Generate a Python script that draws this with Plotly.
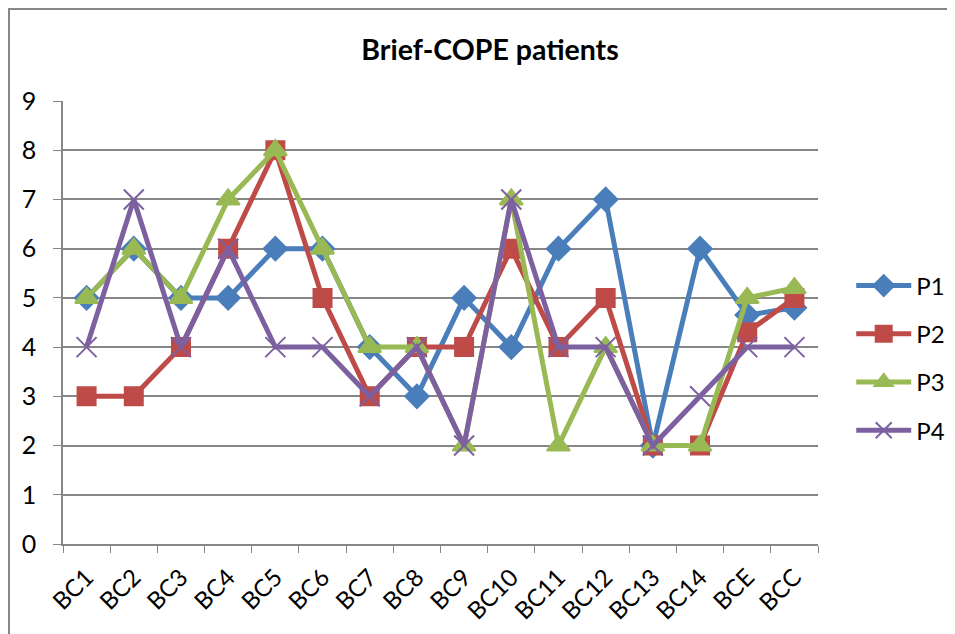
import plotly.graph_objects as go

categories = ["BC1", "BC2", "BC3", "BC4", "BC5", "BC6", "BC7", "BC8", "BC9", "BC10",
              "BC11", "BC12", "BC13", "BC14", "BCE", "BCC"]
p1 = [5, 6, 5, 5, 6, 6, 4, 3, 5, 4, 6, 7, 2, 6, 4.65, 4.8]
p2 = [3, 3, 4, 6, 8, 5, 3, 4, 4, 6, 4, 5, 2, 2, 4.3, 5]
p3 = [5, 6, 5, 7, 8, 6, 4, 4, 2, 7, 2, 4, 2, 2, 5, 5.2]
p4 = [4, 7, 4, 6, 4, 4, 3, 4, 2, 7, 4, 4, 2, 3, 4, 4]
y_ticks = [0, 1, 2, 3, 4, 5, 6, 7, 8, 9]

series = [
    ("P1", p1, "#4A7EBB", "diamond", 18),
    ("P2", p2, "#BE4B48", "square", 18),
    ("P3", p3, "#98B954", "triangle-up", 20),
    ("P4", p4, "#7D60A0", "x-thin-open", 20),
]

fig = go.Figure()
for name, vals, col, sym, sz in series:
    fig.add_trace(go.Scatter(
        x=categories, y=vals, name=name, mode="lines+markers", legendgroup=name,
        line=dict(color=col, width=5),
        marker=dict(symbol=sym, size=sz, color=col,
                    line=dict(color=col, width=2)),
    ))

W, H = 947, 626
L, T, R, B = 55, 93, 137, 90
PW, PH = W - L - R, H - T - B

FONT = "Lato"
fig.update_layout(
    width=W, height=H,
    margin=dict(l=L, r=R, t=T, b=B, autoexpand=False),
    paper_bgcolor="white", plot_bgcolor="white",
    font=dict(family=FONT, color="black", size=24),
    title=dict(text="<b>Brief-COPE patients</b>", x=482 / W, xanchor="center",
               y=1 - 42 / H, yanchor="middle", font=dict(size=28.5, family=FONT)),
    legend=dict(x=1.044, y=(PH - (358 - 8 - T)) / PH, xanchor="left", yanchor="middle",
                font=dict(size=24), itemwidth=55, tracegroupgap=14,
                bgcolor="rgba(0,0,0,0)"),
    showlegend=True,
)
fig.update_xaxes(
    type="category", tickson="boundaries", ticks="outside", ticklen=7,
    tickcolor="#868686", showline=True, linecolor="#868686", linewidth=1.5,
    showgrid=False, tickangle=-45, tickfont=dict(size=24),
    range=[-0.5, 15.5], automargin=False, ticklabelstandoff=8,
)
fig.update_yaxes(
    range=[0, 9], tickvals=y_ticks, ticks="outside", ticklen=8,
    tickcolor="#868686", showline=True, linecolor="#868686", linewidth=1.5,
    showgrid=True, gridcolor="#868686", gridwidth=1.5, zeroline=False,
    tickfont=dict(size=25), automargin=False, ticklabelstandoff=12,
)
fig.add_shape(type="rect", xref="paper", yref="paper",
              x0=-(L - 1) / PW, x1=1.5, y0=-0.5, y1=1 + (T - 1) / PH,
              line=dict(color="#868686", width=2), layer="below")
fig.write_html("out.html")
